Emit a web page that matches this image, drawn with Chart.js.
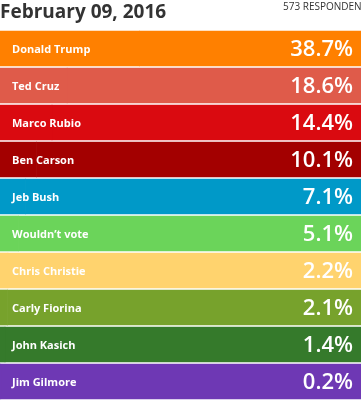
<!DOCTYPE html>
<html>
<head>
<meta charset="utf-8">
<script src="https://cdn.jsdelivr.net/npm/chart.js@4/dist/chart.umd.min.js"></script>
<style>
  html, body { margin: 0; padding: 0; background: #fff; }
  #wrap { position: relative; width: 361px; height: 400px; }
</style>
</head>
<body>
<div id="wrap"><canvas id="c" width="361" height="400"></canvas></div>
<script>
const titleText = "February 09, 2016";
const respondentsText = "573 RESPONDENTS";
const candidates = ["Donald Trump", "Ted Cruz", "Marco Rubio", "Ben Carson", "Jeb Bush", "Wouldn\u2019t vote", "Chris Christie", "Carly Fiorina", "John Kasich", "Jim Gilmore"];
const shares = [38.7, 18.6, 14.4, 10.1, 7.1, 5.1, 2.2, 2.1, 1.4, 0.2];
const colors = ["#FF8000", "#DF5B4A", "#DA0A10", "#A30000", "#0099C8", "#6BD45A", "#FFD36E", "#77A22C", "#357A2B", "#6E38B4"];

// Each row is drawn as a full-width strip: the share plus the rest of 100%.
const rest = shares.map(v => 100 - v);

const textPlugin = {
  id: 'texts',
  afterDatasetsDraw(chart) {
    const ctx = chart.ctx;
    const meta = chart.getDatasetMeta(0);
    ctx.save();
    ctx.textBaseline = 'middle';
    meta.data.forEach((bar, i) => {
      const y = bar.y;
      ctx.fillStyle = '#ffffff';
      ctx.font = 'bold 11px "Open Sans"';
      ctx.textAlign = 'left';
      ctx.fillText(candidates[i], 12, y + 1);
      ctx.font = '600 22px "Open Sans"';
      ctx.textAlign = 'right';
      ctx.fillText(shares[i].toFixed(1) + '%', 353, y + 1);
    });
    ctx.fillStyle = '#333333';
    ctx.textAlign = 'left';
    ctx.font = 'bold 19px "Open Sans"';
    ctx.fillText(titleText, 0, 13);
    ctx.font = '10px "Open Sans"';
    ctx.fillText(respondentsText, 283, 7);
    ctx.restore();
  }
};

new Chart(document.getElementById('c'), {
  type: 'bar',
  data: {
    labels: candidates,
    datasets: [
      { data: shares, backgroundColor: colors, borderWidth: 0 },
      { data: rest, backgroundColor: colors, borderWidth: 0 }
    ]
  },
  options: {
    indexAxis: 'y',
    responsive: false,
    animation: false,
    devicePixelRatio: 1,
    layout: { padding: { top: 30, left: 0, right: 0, bottom: 0 } },
    datasets: { bar: { barThickness: 35 } },
    scales: {
      x: { stacked: true, min: 0, max: 100, display: false },
      y: { stacked: true, display: false }
    },
    plugins: { legend: { display: false }, tooltip: { enabled: false }, title: { display: false } }
  },
  plugins: [textPlugin]
});
</script>
</body>
</html>
